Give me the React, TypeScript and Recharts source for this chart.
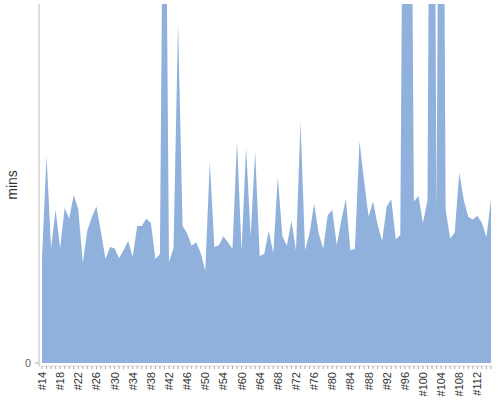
import { Area, AreaChart, XAxis, YAxis } from "recharts";

const FONT = '"Liberation Sans", Arial, sans-serif';
const FILL = "#8fb1db";

// build numbers on the x axis (#57 and #58 are not in the series)
const BUILD_NUMBERS = [
  14, 15, 16, 17, 18, 19, 20, 21, 22, 23, 24, 25, 26, 27, 28, 29, 30, 31, 32, 33,
  34, 35, 36, 37, 38, 39, 40, 41, 42, 43, 44, 45, 46, 47, 48, 49, 50, 51, 52, 53,
  54, 55, 56, 59, 60, 61, 62, 63, 64, 65, 66, 67, 68, 69, 70, 71, 72, 73, 74, 75,
  76, 77, 78, 79, 80, 81, 82, 83, 84, 85, 86, 87, 88, 89, 90, 91, 92, 93, 94, 95,
  96, 97, 98, 99, 100, 101, 102, 103, 104, 105, 106, 107, 108, 109, 110, 111, 112, 113, 114, 115,
];

// build duration in minutes
const MINUTES = [
  17.5, 34.6, 19.2, 25.6, 19.2, 25.9, 24.1, 28.1, 25.7, 16.7,
  22.2, 24.4, 26.1, 21.9, 17.4, 19.4, 19.2, 17.5, 18.9, 20.4,
  17.7, 22.9, 22.9, 24.1, 23.4, 17.4, 18.2, 114, 16.9, 19.2,
  56.8, 22.9, 21.7, 19.6, 20.2, 18.4, 15.4, 33.6, 19.4, 19.7,
  21.2, 20.2, 19.1, 37.1, 18.7, 36.1, 21.2, 35.3, 17.9, 18.2,
  22.1, 18.4, 31.1, 21.2, 19.6, 23.8, 18.8, 40.3, 18.9, 21.7,
  26.6, 21.7, 19.1, 24.7, 25.6, 19.7, 23.9, 27.4, 18.8, 19.1,
  37.0, 30.6, 24.5, 27.0, 23.1, 20.4, 26.1, 27.4, 20.7, 21.4,
  138, 138, 27.0, 27.9, 23.4, 27.2, 173, 24.7, 173, 25.6,
  20.8, 21.8, 31.8, 27.2, 24.4, 24.0, 24.6, 23.4, 21.0, 27.4,
];

const Y_DOMAIN = [-0.5, 60];
const Y_TICKS = [0];

const data = BUILD_NUMBERS.map((n, i) => ({ build: `#${n}`, mins: MINUTES[i] }));

function BuildTick({ x, y, payload, index }: any) {
  // every category gets a tick mark, only every 4th a label
  if (index % 4 !== 0) return <g />;
  return (
    <text
      x={x}
      y={y}
      transform={`rotate(-90 ${x} ${y})`}
      textAnchor="end"
      dominantBaseline="central"
      fontSize={11}
      fontFamily={FONT}
      fill="#333"
    >
      {payload.value}
    </text>
  );
}

function MinsLabel({ viewBox }: any) {
  const cx = viewBox.x + 17;
  const cy = viewBox.y + viewBox.height / 2;
  return (
    <text
      x={cx}
      y={cy}
      transform={`rotate(-90 ${cx} ${cy})`}
      textAnchor="middle"
      fontSize={14}
      fontFamily={FONT}
      fill="#333"
    >
      mins
    </text>
  );
}

export default function App() {
  return (
    <div style={{ position: "absolute", left: 0, top: 0, background: "#fff" }}>
      <AreaChart width={500} height={400} data={data} margin={{ top: 4, right: 9, bottom: 0, left: 0 }}>
        <XAxis
          dataKey="build"
          interval={0}
          height={34}
          padding={{ left: 3, right: 0 }}
          tick={<BuildTick />}
          tickSize={3}
          tickMargin={3}
          tickLine={{ stroke: "#aaa" }}
          axisLine={{ stroke: "#ddd" }}
        />
        <YAxis
          width={39}
          domain={Y_DOMAIN}
          ticks={Y_TICKS}
          allowDataOverflow
          tickSize={4}
          tickMargin={4}
          tick={{ fontSize: 11, fill: "#666", fontFamily: FONT }}
          tickLine={{ stroke: "#aaa" }}
          axisLine={{ stroke: "#bbb" }}
          label={<MinsLabel />}
        />
        <Area
          type="linear"
          dataKey="mins"
          stroke="none"
          fill={FILL}
          fillOpacity={1}
          isAnimationActive={false}
          dot={false}
          activeDot={false}
        />
      </AreaChart>
    </div>
  );
}
